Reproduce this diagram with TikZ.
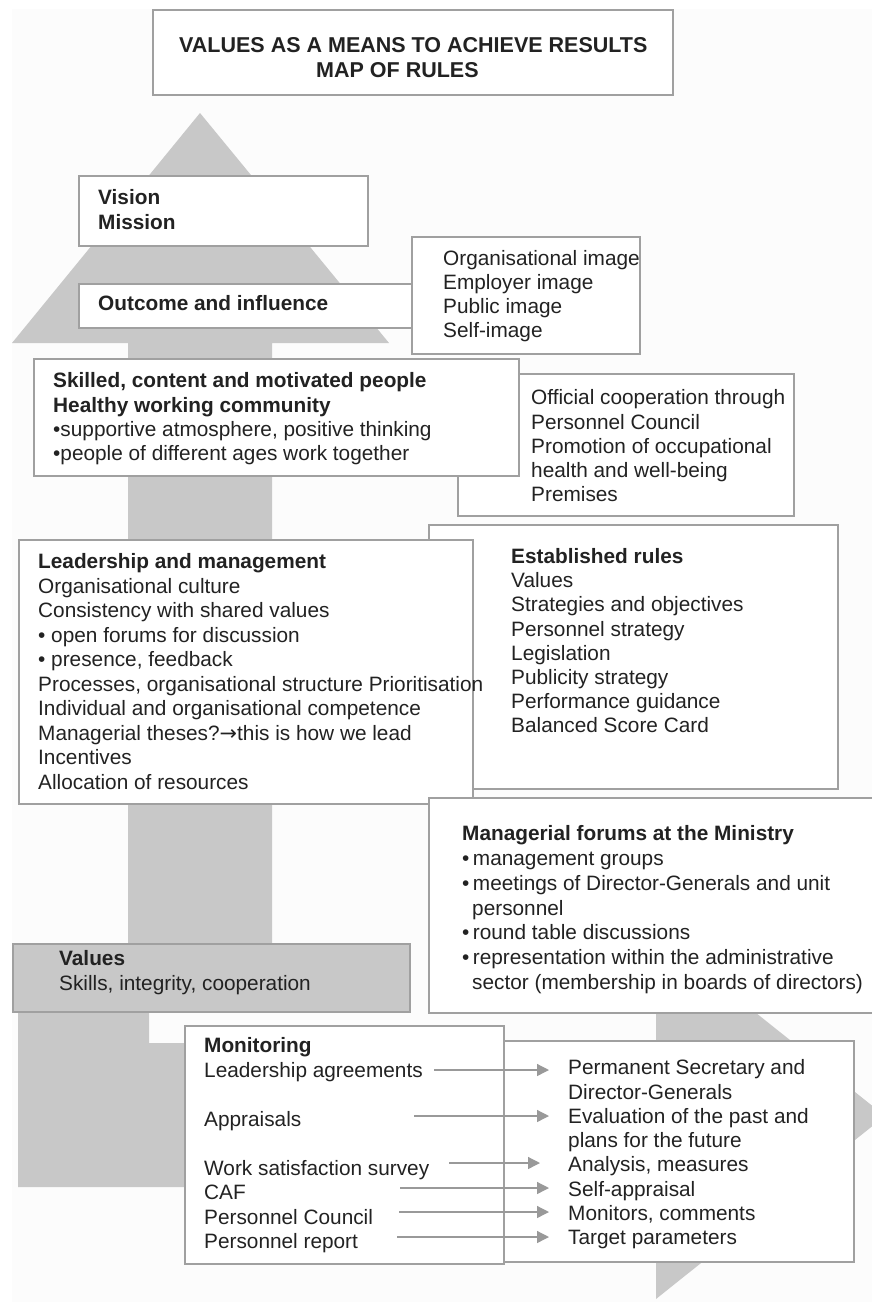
\documentclass[tikz,border=0pt]{standalone}
\usepackage{fontspec}
\setmainfont{Liberation Sans}
\newfontfamily\symf{DejaVu Sans}
\usetikzlibrary{arrows.meta}
\definecolor{arrowgrey}{HTML}{C8C8C8}
\definecolor{boxline}{HTML}{A0A0A0}
\definecolor{txtcol}{HTML}{222222}
\definecolor{conngrey}{HTML}{999999}
\definecolor{bgcol}{HTML}{FCFCFC}
\begin{document}
\begin{tikzpicture}[x=1pt,y=-1pt,
  box/.style={draw=boxline, line width=1.5pt, fill=white, inner sep=0pt, anchor=north west},
  txtblock/.style={anchor=north west, inner sep=0pt, align=left, text=txtcol, font=\fontsize{20.8}{#1}\selectfont},
  txtblock/.default=24.5,
  connector/.style={draw=conngrey, line width=1.3pt, -{Triangle[length=12pt,width=12pt]}}
]
\useasboundingbox (0,0) rectangle (872,1302);
\fill[bgcol] (12,9) rectangle (872,1302);

% big grey arrows
\fill[arrowgrey] (200,113) -- (389,343) -- (272,343) -- (272,1000) -- (128,1000) -- (128,343) -- (12,343) -- cycle;
\fill[arrowgrey] (18,1000) -- (149,1000) -- (149,1043) -- (656,1043) -- (656,933) -- (885,1116) -- (656,1299) -- (656,1187) -- (18,1187) -- cycle;

% boxes
\node[box, minimum width=520pt, minimum height=85pt] (titlebox) at (152,9) {};
\node[box, minimum width=289pt, minimum height=70pt] (visionbox) at (78,175) {};
\node[box, minimum width=333pt, minimum height=44pt] (outcomebox) at (78,283) {};
\node[box, minimum width=228pt, minimum height=117pt] (imagebox) at (411,236) {};
\node[box, minimum width=336pt, minimum height=142pt] (officialbox) at (457,373) {};
\node[box, minimum width=485pt, minimum height=117pt] (skilledbox) at (33,358) {};
\node[box, minimum width=409pt, minimum height=264pt] (establishedbox) at (428,524) {};
\node[box, minimum width=454pt, minimum height=264pt] (leadershipbox) at (18,539) {};
\node[box, minimum width=460pt, minimum height=215pt] (managerialbox) at (428,797) {};
\node[box, fill=arrowgrey, minimum width=397pt, minimum height=68pt] (valuesbox) at (12,943) {};
\node[box, minimum width=350pt, minimum height=221pt] (resultbox) at (503,1040) {};
\node[box, minimum width=319pt, minimum height=238pt] (monitorbox) at (184,1025) {};

% texts
\node[txtblock, font=\fontsize{21.5}{25}\selectfont\bfseries] (titletext) at (179,37.5)
  {VALUES AS A MEANS TO ACHIEVE RESULTS\\\hspace*{137pt}MAP OF RULES};
\node[txtblock=25] (visiontext) at (98,189.5) {\textbf{Vision}\\\textbf{Mission}};
\node[txtblock] (outcometext) at (98,295.5) {\textbf{Outcome and influence}};
\node[txtblock=24] (imagetext) at (443,250.5)
  {Organisational image\\Employer image\\Public image\\Self-image};
\node[txtblock=24.3] (skilledtext) at (53,372.5)
  {\textbf{Skilled, content and motivated people}\\\textbf{Healthy working community}\\
   •supportive atmosphere, positive thinking\\•people of different ages work together};
\node[txtblock=24.25] (officialtext) at (531,389.5)
  {Official cooperation through\\Personnel Council\\Promotion of occupational\\health and well-being\\Premises};
\node[txtblock=24.1] (establishedtext) at (511,548.5)
  {\textbf{Established rules}\\Values\\Strategies and objectives\\Personnel strategy\\Legislation\\Publicity strategy\\Performance guidance\\Balanced Score Card};
\node[txtblock=24.5] (leadershiptext) at (38,553.5)
  {\textbf{Leadership and management}\\Organisational culture\\Consistency with shared values\\
   • open forums for discussion\\• presence, feedback\\Processes, organisational structure Prioritisation\\
   Individual and organisational competence\\Managerial theses?{\symf →}this is how we lead\\Incentives\\Allocation of resources};
\node[txtblock=24.8] (managerialtext) at (462,825.5)
  {\textbf{Managerial forums at the Ministry}\\•\,management groups\\•\,meetings of Director-Generals and unit\\
   \hspace*{10pt}personnel\\•\,round table discussions\\•\,representation within the administrative\\
   \hspace*{10pt}sector (membership in boards of directors)};
\node[txtblock=25] (valuestext) at (59,950.5) {\textbf{Values}\\Skills, integrity, cooperation};
\node[txtblock=24.5] (monitortext) at (204,1037.5)
  {\textbf{Monitoring}\\Leadership agreements\\\mbox{}\\Appraisals\\\mbox{}\\Work satisfaction survey\\CAF\\Personnel Council\\Personnel report};
\node[txtblock=24.3] (resulttext) at (568,1059.5)
  {Permanent Secretary and\\Director-Generals\\Evaluation of the past and\\plans for the future\\Analysis, measures\\Self-appraisal\\Monitors, comments\\Target parameters};

% connectors
\coordinate (s1) at (434,1070); \coordinate (e1) at (549,1070);
\coordinate (s2) at (414,1116); \coordinate (e2) at (549,1116);
\coordinate (s3) at (449,1163); \coordinate (e3) at (540,1163);
\coordinate (s4) at (400,1188); \coordinate (e4) at (549,1188);
\coordinate (s5) at (399,1212); \coordinate (e5) at (549,1212);
\coordinate (s6) at (397,1237); \coordinate (e6) at (549,1237);
\foreach \i in {1,...,6} { \draw[connector] (s\i) -- (e\i); }
\end{tikzpicture}
\end{document}
